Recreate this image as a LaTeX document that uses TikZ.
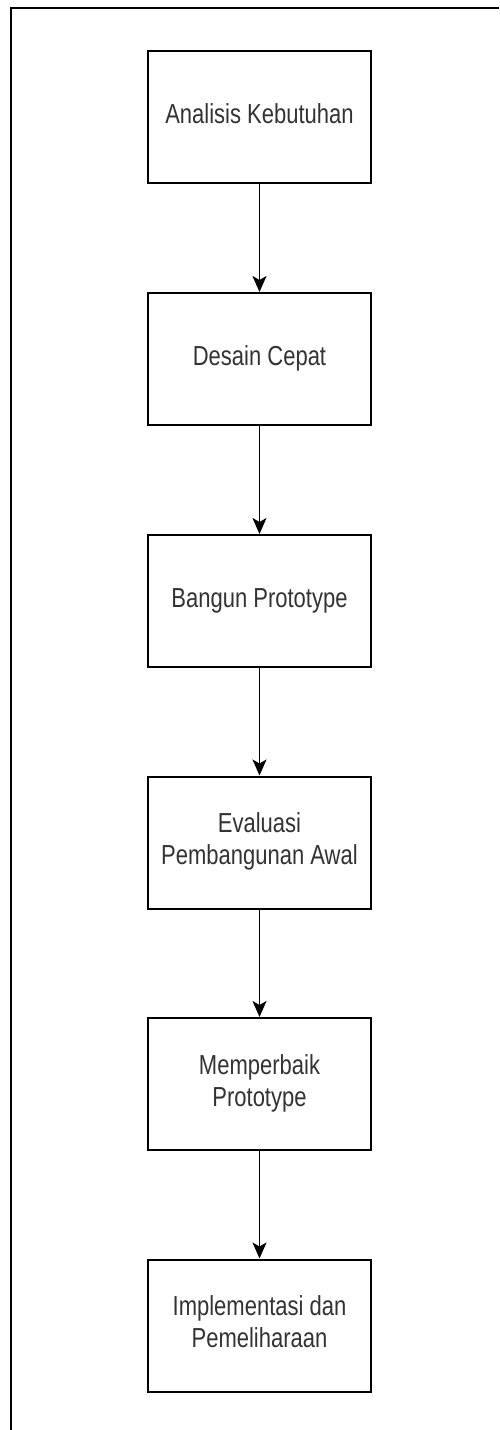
\documentclass[tikz,border=0pt]{standalone}
\usepackage{fontspec}
\usepackage{graphicx}
\setmainfont{Liberation Sans}
\usetikzlibrary{arrows.meta}
\definecolor{txtgray}{HTML}{333333}
\newcommand{\steptext}[1]{\scalebox{0.8}[1]{\begin{tabular}{@{}c@{}}#1\end{tabular}}}
\begin{document}
\begin{tikzpicture}[x=1pt,y=-1pt,
  stepbox/.style={draw=black,line width=2pt,fill=white,minimum width=223pt,minimum height=132pt,
    inner sep=0pt,align=center,text=txtgray,font=\fontsize{27.5}{32}\selectfont},
  flow/.style={draw=black,line width=1.8pt,-{Stealth[length=16pt,width=14pt,inset=4pt]}}]
\useasboundingbox (0,0) rectangle (499,1430);
\fill[white] (0,0) rectangle (499,1430);
\coordinate (ftr) at (499,7.5);
\coordinate (ftl) at (11,7.5);
\coordinate (fbl) at (11,1430);
\draw[line width=2pt] (ftr) -- (ftl) -- (fbl);
\node[stepbox] (a) at (259.5,117) {\steptext{Analisis Kebutuhan}};
\node[stepbox] (b) at (259.5,359) {\steptext{Desain Cepat}};
\node[stepbox] (c) at (259.5,601) {\steptext{Bangun Prototype}};
\node[stepbox] (d) at (259.5,842.5) {\steptext{Evaluasi\\Pembangunan Awal}};
\node[stepbox] (e) at (259.5,1084) {\steptext{Memperbaik\\Prototype}};
\node[stepbox] (f) at (259.5,1325.5) {\steptext{Implementasi dan\\Pemeliharaan}};
\draw[flow] (a) -- (b);
\draw[flow] (b) -- (c);
\draw[flow] (c) -- (d);
\draw[flow] (d) -- (e);
\draw[flow] (e) -- (f);
\end{tikzpicture}
\end{document}
